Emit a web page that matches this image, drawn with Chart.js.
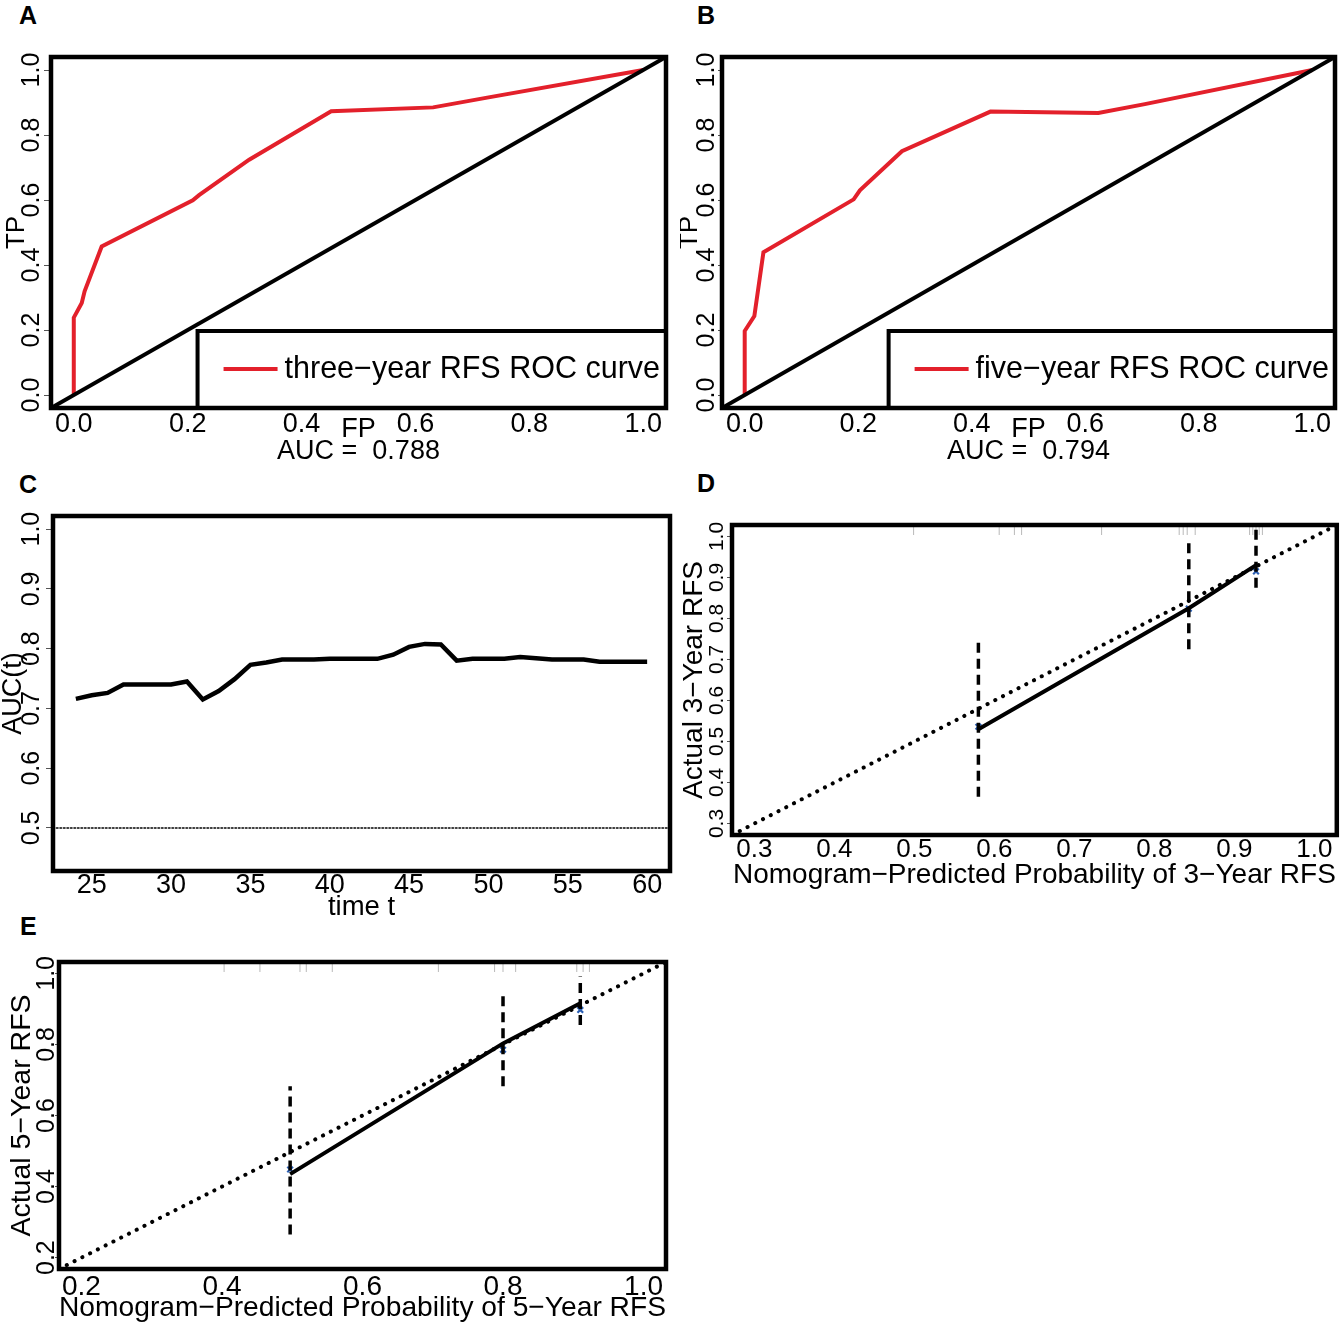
<!DOCTYPE html>
<html>
<head>
<meta charset="utf-8">
<script src="https://cdn.jsdelivr.net/npm/chart.js@4.4.0/dist/chart.umd.min.js"></script>
<style>
body { margin: 0; background: #fff; width: 1343px; height: 1327px; position: relative; overflow: hidden;
       font-family: "Liberation Sans", Arial, Helvetica, sans-serif; }
.pane { position: absolute; }
.tag { position: absolute; font-weight: bold; font-size: 25px; line-height: 25px; color: #000; }
</style>
</head>
<body>
<div class="tag" style="left:19px;top:3px">A</div>
<div class="tag" style="left:697px;top:3px">B</div>
<div class="tag" style="left:19px;top:472px">C</div>
<div class="tag" style="left:697px;top:471px">D</div>
<div class="tag" style="left:20px;top:914px">E</div>

<div class="pane" style="left:0;top:0;width:680px;height:470px"><canvas id="cA"></canvas></div>
<div class="pane" style="left:680px;top:0;width:663px;height:470px"><canvas id="cB"></canvas></div>
<div class="pane" style="left:0;top:470px;width:680px;height:460px"><canvas id="cC"></canvas></div>
<div class="pane" style="left:680px;top:470px;width:663px;height:430px"><canvas id="cD"></canvas></div>
<div class="pane" style="left:0;top:910px;width:680px;height:417px"><canvas id="cE"></canvas></div>

<script>
// ---- data ----
// A: three-year RFS ROC
var rocA_fp = [0, 0, 0.014, 0.019, 0.049, 0.209, 0.22, 0.308, 0.452, 0.631, 0.726, 1.0];
var rocA_tp = [0, 0.238, 0.283, 0.319, 0.457, 0.599, 0.615, 0.724, 0.873, 0.885, 0.915, 1.0];
var aucA = '0.788';
// B: five-year RFS ROC
var rocB_fp = [0, 0, 0.017, 0.033, 0.192, 0.203, 0.277, 0.433, 0.623, 0.705, 1.0];
var rocB_tp = [0, 0.197, 0.243, 0.439, 0.602, 0.63, 0.75, 0.872, 0.868, 0.895, 1.0];
var aucB = '0.794';
var rocTicks = [0, 0.2, 0.4, 0.6, 0.8, 1.0];
var rocRange = [-0.04, 1.04];

// C: time-dependent AUC
var timeT = [24, 25, 26, 27, 28, 29, 30, 31, 32, 33, 34, 35, 36, 37, 38, 39, 40, 41, 42,
             43, 44, 45, 46, 47, 48, 49, 50, 51, 52, 53, 54, 55, 56, 57, 58, 59, 60];
var aucT = [0.716, 0.722, 0.726, 0.740, 0.740, 0.740, 0.740, 0.745, 0.715, 0.729, 0.749, 0.773,
            0.777, 0.782, 0.782, 0.782, 0.783, 0.783, 0.783, 0.783, 0.790, 0.803, 0.808, 0.807,
            0.780, 0.783, 0.783, 0.783, 0.786, 0.784, 0.782, 0.782, 0.782, 0.778, 0.778, 0.778, 0.778];
var timeTicks = [25, 30, 35, 40, 45, 50, 55, 60];
var aucTicks = [0.5, 0.6, 0.7, 0.8, 0.9, 1.0];

// D: 3-year calibration
var calD_pred = [0.580, 0.843, 0.927];
var calD_obs = [0.530, 0.825, 0.930];
var calD_corr = [0.536, 0.824, 0.915];
var calD_lo = [0.365, 0.725, 0.875];
var calD_hi = [0.755, 0.986, 1.017];
var rugD = [0.499, 0.606, 0.625, 0.634, 0.734, 0.831, 0.836, 0.841, 0.851, 0.919, 0.923, 0.927, 0.931, 0.935];
var calD_ticks = [0.3, 0.4, 0.5, 0.6, 0.7, 0.8, 0.9, 1.0];

// E: 5-year calibration
var calE_pred = [0.497, 0.800, 0.910];
var calE_obs = [0.435, 0.803, 0.916];
var calE_corr = [0.448, 0.785, 0.897];
var calE_lo = [0.265, 0.682, 0.855];
var calE_hi = [0.682, 0.950, 0.991];
var rugE = [0.403, 0.454, 0.511, 0.520, 0.557, 0.708, 0.788, 0.800, 0.818, 0.905, 0.914, 0.923];
var calE_ticks = [0.2, 0.4, 0.6, 0.8, 1.0];

var RED = '#e3202b';
var FONT = '"Liberation Sans", Arial, Helvetica, sans-serif';

Chart.defaults.font.family = FONT;
Chart.defaults.color = '#000';

// ---- helpers ----
var measure = document.createElement('canvas').getContext('2d');
function textW(txt, size) {
    measure.font = size + 'px ' + FONT;
    return measure.measureText(txt).width;
}
function f1(v) { return Number(v).toFixed(1); }
function f0(v) { return String(v); }
function zip(xs, ys) { return xs.map(function(x, i) { return {x: x, y: ys[i]}; }); }
function line(pts, color, width, dash) {
    return {data: pts, showLine: true, borderColor: color, borderWidth: width, borderDash: dash || [],
            borderCapStyle: dash ? 'round' : 'butt', pointRadius: 0, fill: false, tension: 0};
}
function setTicks(vals) {
    return function(s) { s.ticks = vals.map(function(v) { return {value: v}; }); };
}
function xScale(o) {
    return {
        type: 'linear', position: 'bottom', min: o.min, max: o.max,
        afterFit: function(s) { s.height = o.h; },
        afterBuildTicks: setTicks(o.ticks),
        grid: {display: false, drawTicks: false, tickLength: 0},
        border: {display: false},
        ticks: {autoSkip: false, minRotation: 0, maxRotation: 0, padding: o.pad,
                font: {size: o.fs, lineHeight: 1}, callback: o.fmt},
        title: {display: true, text: o.title, font: {size: o.tfs, lineHeight: o.tlh || 1},
                padding: {top: 0, bottom: o.tpad}}
    };
}
function yScale(o) {
    var lw = textW(o.fmt(o.ticks[0]), o.fs);
    return {
        type: 'linear', position: 'left', min: o.min, max: o.max,
        afterFit: function(s) { s.width = o.w; },
        afterBuildTicks: setTicks(o.ticks),
        grid: {display: true, drawOnChartArea: false, drawTicks: true, tickLength: o.tl,
               color: '#555', lineWidth: 1},
        border: {display: false},
        ticks: {autoSkip: false, minRotation: 90, maxRotation: 90, crossAlign: 'center',
                padding: o.w - o.tl - lw / 2 - o.cx, font: {size: o.fs, lineHeight: 1}, callback: o.fmt},
        title: {display: true, text: o.title, font: {size: o.tfs, lineHeight: 1},
                padding: {top: o.tcx - o.tfs / 2, bottom: 0}}
    };
}

// plot box
var framePlugin = {
    id: 'frame',
    afterDraw: function(chart) {
        var a = chart.chartArea, c = chart.ctx;
        c.save();
        c.lineWidth = 4.5;
        c.strokeStyle = '#000';
        c.strokeRect(a.left, a.top, a.right - a.left, a.bottom - a.top);
        c.restore();
    }
};
// R style legend in the bottom right corner
var rocLegend = {
    id: 'rocLegend',
    afterDatasetsDraw: function(chart, args, opts) {
        var a = chart.chartArea, c = chart.ctx;
        c.save();
        c.font = '30.5px ' + FONT;
        var tw = c.measureText(opts.text).width;
        var left = a.right - (tw + 6 + 7 + 54 + 26);
        var top = a.bottom - 77;
        c.fillStyle = '#fff';
        c.fillRect(left, top, a.right - left, a.bottom - top);
        c.lineWidth = 4;
        c.strokeStyle = '#000';
        c.strokeRect(left, top, a.right - left, a.bottom - top);
        var cy = top + 38;
        c.strokeStyle = RED;
        c.beginPath();
        c.moveTo(left + 26, cy);
        c.lineTo(left + 80, cy);
        c.stroke();
        c.fillStyle = '#000';
        c.textBaseline = 'middle';
        c.textAlign = 'left';
        c.fillText(opts.text, left + 87, cy + 1);
        c.restore();
    }
};
// rug of predicted values along the top edge
var rugPlugin = {
    id: 'rug',
    afterDatasetsDraw: function(chart, args, opts) {
        if (!opts.values) return;
        var x = chart.scales.x, a = chart.chartArea, c = chart.ctx;
        c.save();
        c.strokeStyle = 'rgba(0,0,0,0.28)';
        c.lineWidth = 1;
        opts.values.forEach(function(v) {
            var px = x.getPixelForValue(v);
            c.beginPath();
            c.moveTo(px, a.top + 2);
            c.lineTo(px, a.top + 10);
            c.stroke();
        });
        c.restore();
    }
};

function baseOptions(pad) {
    return {
        responsive: true, maintainAspectRatio: false, animation: false,
        layout: {padding: pad},
        plugins: {legend: {display: false}, tooltip: {enabled: false}}
    };
}

// ---- A ----
var optA = baseOptions({top: 57, right: 14, left: 0, bottom: 0});
optA.plugins.rocLegend = {text: 'three−year RFS ROC curve'};
optA.scales = {
    x: xScale({min: rocRange[0], max: rocRange[1], ticks: rocTicks, h: 62, fs: 27, pad: 3.5, fmt: f1,
               title: ['FP', 'AUC =  ' + aucA], tfs: 27, tlh: 22 / 27, tpad: 7}),
    y: yScale({min: rocRange[0], max: rocRange[1], ticks: rocTicks, w: 51, tl: 7, fs: 25, cx: 32, fmt: f1,
               title: 'TP', tfs: 26, tcx: 17})
};
new Chart(document.getElementById('cA'), {
    type: 'scatter',
    data: {datasets: [
        line(zip(rocRange, rocRange), '#000', 4),
        line(zip(rocA_fp, rocA_tp), RED, 4)
    ]},
    options: optA,
    plugins: [rocLegend, framePlugin]
});

// ---- B ----
var optB = baseOptions({top: 57, right: 8, left: 0, bottom: 0});
optB.plugins.rocLegend = {text: 'five−year RFS ROC curve'};
optB.scales = {
    x: xScale({min: rocRange[0], max: rocRange[1], ticks: rocTicks, h: 62, fs: 27, pad: 3.5, fmt: f1,
               title: ['FP', 'AUC =  ' + aucB], tfs: 27, tlh: 22 / 27, tpad: 7}),
    y: yScale({min: rocRange[0], max: rocRange[1], ticks: rocTicks, w: 42, tl: 4, fs: 25, cx: 27, fmt: f1,
               title: 'TP', tfs: 26, tcx: 10})
};
new Chart(document.getElementById('cB'), {
    type: 'scatter',
    data: {datasets: [
        line(zip(rocRange, rocRange), '#000', 4),
        line(zip(rocB_fp, rocB_tp), RED, 4)
    ]},
    options: optB,
    plugins: [rocLegend, framePlugin]
});

// ---- C ----
var tRange = [22.56, 61.44];
var optC = baseOptions({top: 46, right: 10, left: 0, bottom: 0});
optC.scales = {
    x: xScale({min: tRange[0], max: tRange[1], ticks: timeTicks, h: 59, fs: 27, pad: 1.5, fmt: f0,
               title: 'time t', tfs: 27.5, tpad: 9}),
    y: yScale({min: 0.428, max: 1.022, ticks: aucTicks, w: 53, tl: 7, fs: 25, cx: 32, fmt: f1,
               title: 'AUC(t)', tfs: 27, tcx: 14})
};
new Chart(document.getElementById('cC'), {
    type: 'scatter',
    data: {datasets: [
        line(zip(timeT, aucT), '#000', 4.5),
        line(zip(tRange, [0.5, 0.5]), '#000', 1.6, [1.5, 2])
    ]},
    options: optC,
    plugins: [framePlugin]
});

// ---- calibration panels ----
function calDatasets(pred, obs, corr, lo, hi, range) {
    var ds = [line(zip(range, range), '#000', 4, [0.1, 8.6])];
    ds.push(line(zip(pred, obs), '#000', 4));
    for (var i = 0; i < pred.length; i++) {
        var bar = line(zip([pred[i], pred[i]], [lo[i], hi[i]]), '#000', 3.5, [10, 6]);
        bar.borderCapStyle = 'butt';
        ds.push(bar);
    }
    ds.push({data: zip(pred, corr), showLine: false, pointStyle: 'crossRot', pointRadius: 4,
             borderColor: '#2b5fb4', borderWidth: 2.2, backgroundColor: '#2b5fb4'});
    return ds;
}

// ---- D ----
var rangeD = [0.272, 1.028];
var optD = baseOptions({top: 55, right: 3, left: 0, bottom: 0});
optD.plugins.rug = {values: rugD};
optD.scales = {
    x: xScale({min: rangeD[0], max: rangeD[1], ticks: calD_ticks, h: 65, fs: 26, pad: 2, fmt: f1,
               title: 'Nomogram−Predicted Probability of 3−Year RFS', tfs: 28, tpad: 11}),
    y: yScale({min: rangeD[0], max: rangeD[1], ticks: calD_ticks, w: 52, tl: 5, fs: 21, cx: 37.5, fmt: f1,
               title: 'Actual 3−Year RFS', tfs: 28, tcx: 14})
};
new Chart(document.getElementById('cD'), {
    type: 'scatter',
    data: {datasets: calDatasets(calD_pred, calD_obs, calD_corr, calD_lo, calD_hi, rangeD)},
    options: optD,
    plugins: [rugPlugin, framePlugin]
});

// ---- E ----
var rangeE = [0.168, 1.032];
var optE = baseOptions({top: 52, right: 14, left: 0, bottom: 0});
optE.plugins.rug = {values: rugE};
optE.scales = {
    x: xScale({min: rangeE[0], max: rangeE[1], ticks: calE_ticks, h: 58, fs: 28, pad: 4, fmt: f1,
               title: 'Nomogram−Predicted Probability of 5−Year RFS', tfs: 28.5, tpad: 4.75}),
    y: yScale({min: rangeE[0], max: rangeE[1], ticks: calE_ticks, w: 59, tl: 4, fs: 25, cx: 47, fmt: f1,
               title: 'Actual 5−Year RFS', tfs: 28.5, tcx: 22})
};
new Chart(document.getElementById('cE'), {
    type: 'scatter',
    data: {datasets: calDatasets(calE_pred, calE_obs, calE_corr, calE_lo, calE_hi, rangeE)},
    options: optE,
    plugins: [rugPlugin, framePlugin]
});
</script>
</body>
</html>
